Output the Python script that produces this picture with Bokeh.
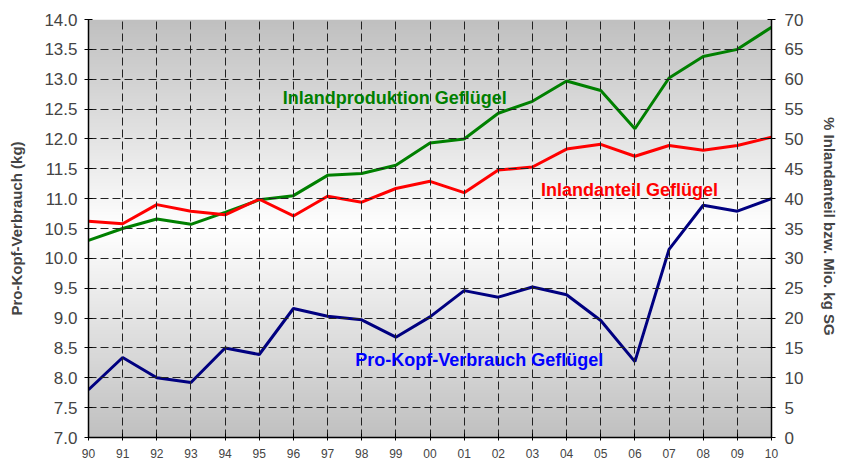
import numpy as np
from bokeh.plotting import figure
from bokeh.models import Range1d, LinearAxis, FixedTicker, Label, NumeralTickFormatter
from bokeh.embed import file_html
from bokeh.resources import INLINE

years = ["90", "91", "92", "93", "94", "95", "96", "97", "98", "99", "00",
         "01", "02", "03", "04", "05", "06", "07", "08", "09", "10"]
# Pro-Kopf-Verbrauch Geflügel (kg, left axis)
pro_kopf = [7.80, 8.34, 8.00, 7.92, 8.50, 8.39, 9.16, 9.03, 8.97, 8.68, 9.02,
            9.46, 9.35, 9.52, 9.39, 8.96, 8.27, 10.15, 10.89, 10.79, 11.00]
# Inlandanteil Geflügel (%, right axis)
inlandanteil = [36.2, 35.8, 39.0, 37.9, 37.3, 39.9, 37.1, 40.4, 39.4, 41.7, 42.9,
                41.0, 44.8, 45.3, 48.3, 49.1, 47.1, 48.9, 48.1, 48.9, 50.3]
# Inlandproduktion Geflügel (Mio. kg SG, right axis)
inlandproduktion = [33.0, 35.0, 36.6, 35.7, 37.7, 39.8, 40.5, 43.9, 44.2, 45.6, 49.3,
                    50.0, 54.3, 56.3, 59.7, 58.1, 51.7, 60.2, 63.8, 65.0, 68.7]

left_ticks = [7.0 + 0.5 * i for i in range(15)]
right_ticks = [5 * i for i in range(15)]

x = list(range(len(years)))
FONT = "Liberation Sans"

p = figure(width=841, height=466, output_backend="svg", toolbar_location=None,
           x_range=Range1d(0, len(years) - 1), y_range=Range1d(7, 14),
           min_border_left=88, min_border_right=67, min_border_top=19, min_border_bottom=29)
p.outline_line_color = None
p.background_fill_color = "white"
p.border_fill_color = "white"
p.extra_y_ranges = {"pct": Range1d(0, 70)}

# vertical gradient background (grey - white - grey)
n = 400
t = np.linspace(0, 1, n)
g = (192 + 63 * (1 - np.abs(t - 0.5) * 2)).astype(np.uint32)
img = np.zeros((n, 1), dtype=np.uint32)
view = img.view(dtype=np.uint8).reshape((n, 1, 4))
view[:, 0, 0] = g
view[:, 0, 1] = g
view[:, 0, 2] = g
view[:, 0, 3] = 255
p.image_rgba(image=[img], x=0, y=7, dw=len(years) - 1, dh=7, level="image")

# grids
for grid in (p.xgrid, p.ygrid):
    grid.grid_line_color = "#222222"
    grid.grid_line_dash = "8 4"
    grid.grid_line_width = 1
    grid.level = "glyph"
p.xgrid.ticker = FixedTicker(ticks=x)
p.ygrid.ticker = FixedTicker(ticks=left_ticks)

p.line(x, inlandproduktion, y_range_name="pct", color="#008000", line_width=3)
p.line(x, inlandanteil, y_range_name="pct", color="#FF0000", line_width=3)
p.line(x, pro_kopf, color="#000080", line_width=3)

# axes
xa = p.xaxis[0]
xa.ticker = FixedTicker(ticks=x)
xa.major_label_overrides = {i: yv for i, yv in enumerate(years)}
xa.major_label_text_font = FONT
xa.major_label_text_font_size = "12px"
xa.major_label_standoff = 8
xa.major_tick_out = 3
xa.major_tick_in = 4
xa.minor_tick_line_color = None
xa.axis_line_color = "black"
xa.axis_line_width = 1.5

ya = p.yaxis[0]
ya.ticker = FixedTicker(ticks=left_ticks)
ya.formatter = NumeralTickFormatter(format="0.0")
ya.major_label_text_font = FONT
ya.major_label_text_font_size = "17px"
ya.major_label_standoff = 7
ya.major_tick_out = 4
ya.major_tick_in = 4
ya.minor_tick_line_color = None
ya.axis_line_color = "black"
ya.axis_line_width = 1.5
ya.axis_label = "Pro-Kopf-Verbrauch (kg)"
ya.axis_label_text_font = FONT
ya.axis_label_text_font_size = "15px"
ya.axis_label_text_font_style = "bold"
ya.axis_label_standoff = 16

ra = LinearAxis(y_range_name="pct", ticker=FixedTicker(ticks=right_ticks))
ra.major_label_text_font = FONT
ra.major_label_text_font_size = "17px"
ra.major_label_standoff = 9
ra.major_tick_out = 4
ra.major_tick_in = 4
ra.minor_tick_line_color = None
ra.axis_line_color = "black"
ra.axis_line_width = 1.5
ra.axis_label = "% Inlandanteil  bzw. Mio. kg SG"
ra.axis_label_text_font = FONT
ra.axis_label_text_font_size = "15px"
ra.axis_label_text_font_style = "bold"
ra.axis_label_standoff = 15
p.add_layout(ra, "right")

# series labels
p.add_layout(Label(x=5.69, y=12.69, text="Inlandproduktion Geflügel", text_color="#008000",
                   text_font=FONT, text_font_size="18px", text_font_style="bold",
                   text_baseline="middle", text_align="left"))
p.add_layout(Label(x=13.25, y=11.14, text="Inlandanteil Geflügel", text_color="#FF0000",
                   text_font=FONT, text_font_size="18px", text_font_style="bold",
                   text_baseline="middle", text_align="left"))
p.add_layout(Label(x=7.81, y=8.29, text="Pro-Kopf-Verbrauch Geflügel", text_color="#0000FF",
                   text_font=FONT, text_font_size="18px", text_font_style="bold",
                   text_baseline="middle", text_align="left"))

open("out.html", "w").write(file_html(p, INLINE))
